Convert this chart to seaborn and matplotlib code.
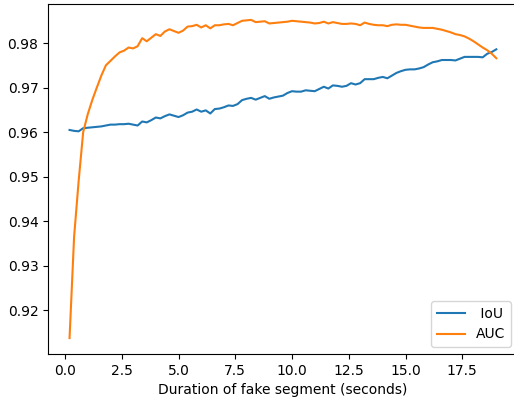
import matplotlib
matplotlib.use("Agg")
import matplotlib.pyplot as plt
import seaborn as sns
import pandas as pd

duration = [0.2, 0.4, 0.6, 0.8, 1.0, 1.2, 1.4, 1.6, 1.8, 2.0,
            2.2, 2.4, 2.6, 2.8, 3.0, 3.2, 3.4, 3.6, 3.8, 4.0,
            4.2, 4.4, 4.6, 4.8, 5.0, 5.2, 5.4, 5.6, 5.8, 6.0,
            6.2, 6.4, 6.6, 6.8, 7.0, 7.2, 7.4, 7.6, 7.8, 8.0,
            8.2, 8.4, 8.6, 8.8, 9.0, 9.2, 9.4, 9.6, 9.8, 10.0,
            10.2, 10.4, 10.6, 10.8, 11.0, 11.2, 11.4, 11.6, 11.8, 12.0,
            12.2, 12.4, 12.6, 12.8, 13.0, 13.2, 13.4, 13.6, 13.8, 14.0,
            14.2, 14.4, 14.6, 14.8, 15.0, 15.2, 15.4, 15.6, 15.8, 16.0,
            16.2, 16.4, 16.6, 16.8, 17.0, 17.2, 17.4, 17.6, 17.8, 18.0,
            18.2, 18.4, 18.6, 18.8, 19.0]

iou = [0.9605, 0.9603, 0.9602, 0.9609, 0.9610, 0.9611, 0.9612, 0.9613, 0.9615, 0.9617,
       0.9617, 0.9618, 0.9618, 0.9619, 0.9617, 0.9615, 0.9624, 0.9622, 0.9627, 0.9633,
       0.9631, 0.9636, 0.9640, 0.9637, 0.9634, 0.9638, 0.9644, 0.9646, 0.9651, 0.9646,
       0.9649, 0.9642, 0.9652, 0.9653, 0.9656, 0.9660, 0.9659, 0.9663, 0.9672, 0.9675,
       0.9677, 0.9673, 0.9677, 0.9681, 0.9675, 0.9678, 0.9680, 0.9682, 0.9688, 0.9692,
       0.9691, 0.9691, 0.9694, 0.9693, 0.9692, 0.9697, 0.9702, 0.9698, 0.9705, 0.9704,
       0.9702, 0.9704, 0.9710, 0.9707, 0.9710, 0.9719, 0.9719, 0.9719, 0.9722, 0.9724,
       0.9721, 0.9727, 0.9733, 0.9737, 0.9740, 0.9741, 0.9741, 0.9743, 0.9746, 0.9752,
       0.9757, 0.9759, 0.9762, 0.9762, 0.9762, 0.9761, 0.9765, 0.9769, 0.9769, 0.9769,
       0.9769, 0.9768, 0.9776, 0.9780, 0.9786]

auc = [0.9138, 0.9365, 0.9490, 0.9600, 0.9640, 0.9672, 0.9700, 0.9727, 0.9750, 0.9760,
       0.9770, 0.9779, 0.9783, 0.9790, 0.9788, 0.9793, 0.9811, 0.9804, 0.9812, 0.9820,
       0.9816, 0.9826, 0.9831, 0.9827, 0.9823, 0.9828, 0.9837, 0.9838, 0.9841, 0.9835,
       0.9840, 0.9833, 0.9840, 0.9840, 0.9842, 0.9843, 0.9840, 0.9845, 0.9850, 0.9851,
       0.9852, 0.9847, 0.9848, 0.9849, 0.9844, 0.9845, 0.9846, 0.9847, 0.9848, 0.9850,
       0.9849, 0.9848, 0.9847, 0.9846, 0.9844, 0.9845, 0.9848, 0.9844, 0.9847, 0.9845,
       0.9843, 0.9843, 0.9844, 0.9843, 0.9840, 0.9846, 0.9843, 0.9841, 0.9840, 0.9840,
       0.9838, 0.9841, 0.9842, 0.9841, 0.9841, 0.9839, 0.9837, 0.9835, 0.9834, 0.9834,
       0.9834, 0.9832, 0.9830, 0.9827, 0.9824, 0.9820, 0.9818, 0.9815, 0.9810, 0.9804,
       0.9797, 0.9790, 0.9784, 0.9776, 0.9766]

series_names = ["IoU", "AUC"]
legend_labels = [" IoU", "AUC"]
x_label = "Duration of fake segment (seconds)"

df = pd.DataFrame({"duration": duration, "IoU": iou, "AUC": auc})

fig = plt.figure(figsize=(5.14, 3.99), dpi=100)
ax = fig.add_axes([0.0938, 0.1128, 0.9133, 0.8772])

colors = sns.color_palette("tab10", 2)
for name, lab, c in zip(series_names, legend_labels, colors):
    sns.lineplot(data=df, x="duration", y=name, ax=ax, color=c, label=lab, linewidth=1.5)

ax.set_xlabel(x_label)
ax.set_ylabel("")
ax.set_xticks([0.0, 2.5, 5.0, 7.5, 10.0, 12.5, 15.0, 17.5])
ax.legend(loc="lower right")

fig.savefig("out.png", dpi=100)
